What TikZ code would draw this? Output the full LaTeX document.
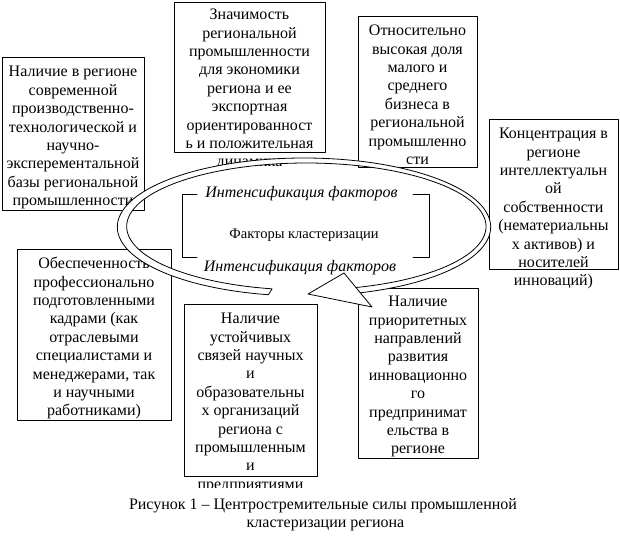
\documentclass[tikz,border=0pt]{standalone}
\usepackage{fontspec}
\setmainfont{Liberation Serif}
\begin{document}
\begin{tikzpicture}[line cap=round,line join=round,x=1pt,y=-1pt,
		khung/.style={draw,line width=0.8pt},
		chu/.style={anchor=base,inner sep=0pt,font=\fontsize{16}{18.4}\selectfont}]
	\useasboundingbox (0,0) rectangle (620,553); %khung hình
	% Vẽ các ô xung quanh, điền chữ từng dòng
	\draw[khung] (2,57) rectangle (144,210); %ô 1
	\foreach \t [count=\i from 0] in {Наличие в регионе,современной,производственно-,
		технологической и,научно-,эксперементальной,базы региональной,промышленности}
	\node[chu] (a\i) at (73,{77+18.4*\i}) {\t};
	\draw[khung] (174,2) rectangle (325,152); %ô 2
	\foreach \t [count=\i from 0] in {Значимость,региональной,промышленности,для экономики,
		региона и ее,экспортная,ориентированност,ь и положительная,динамика}
	\node[chu] (b\i) at (249.5,{19.7+18.4*\i}) {\t};
	\draw[khung] (358,16) rectangle (477,167); %ô 3
	\foreach \t [count=\i from 0] in {Относительно,высокая доля,малого и,среднего,
		бизнеса в,региональной,промышленно,сти}
	\node[chu] (c\i) at (417.5,{35.7+18.4*\i}) {\t};
	\draw[khung] (489,119) rectangle (618,269); %ô 4
	\foreach \t [count=\i from 0] in {Концентрация в,регионе,интеллектуальн,ой,собственности,
		{(нематериальны},{х активов) и},носителей,{инноваций)}}
	\node[chu] (d\i) at (553.5,{138.7+18.4*\i}) {\t};
	\draw[khung] (17,249) rectangle (171,420); %ô 5
	\foreach \t [count=\i from 0] in {Обеспеченность,профессионально,подготовленными,
		{кадрами (как},отраслевыми,специалистами и,{менеджерами, так},и научными,{работниками)}}
	\node[chu] (e\i) at (94,{268.7+18.4*\i}) {\t};
	\draw[khung] (184,304) rectangle (317,476); %ô 6
	\begin{scope}
		\clip (184,300) rectangle (317,487.5); %cắt dòng cuối
		\foreach \t [count=\i from 0] in {Наличие,устойчивых,связей научных,и,образовательны,
			х организаций,региона с,промышленным,и,предприятиями}
		\node[chu] (f\i) at (250.5,{323.7+18.4*\i}) {\t};
	\end{scope}
	\draw[khung] (358,288) rectangle (478,458); %ô 7
	\foreach \t [count=\i from 0] in {Наличие,приоритетных,направлений,развития,
		инновационно,го,предпринимат,ельства в,регионе}
	\node[chu] (g\i) at (418,{306.7+18.4*\i}) {\t};
	% Vẽ mũi tên cong hình elip
	\draw[line width=0.8pt,fill=white,smooth,samples=120]
	plot[domain=101:435] ({304+186.7*cos(\x)},{227+69*sin(\x)})
	-- plot[domain=435:101] ({306.35+179.7*cos(\x)},{226.5+63.5*sin(\x)}) -- cycle;
	\draw[line width=0.8pt,fill=white] (344,273) -- (308,294) -- (372,307) -- cycle; %đầu mũi tên
	% Vẽ khung ở giữa
	\draw[line width=0.8pt] (197,194) -- (182,194) -- (182,257) -- (197,257);
	\draw[line width=0.8pt] (413,194) -- (429,194) -- (429,257) -- (413,257);
	\node[chu,font=\fontsize{16}{18}\selectfont\itshape] (tren) at (301.5,197) {Интенсификация факторов};
	\node[chu,font=\fontsize{14.5}{17}\selectfont] (giua) at (304,238) {Факторы кластеризации};
	\node[chu,font=\fontsize{16}{18}\selectfont\itshape] (duoi) at (300,271) {Интенсификация факторов};
	% Chú thích hình
	\node[chu] (cap1) at (323,509) {Рисунок 1 – Центростремительные силы промышленной};
	\node[chu] (cap2) at (325.5,527) {кластеризации региона};
\end{tikzpicture}
\end{document}
